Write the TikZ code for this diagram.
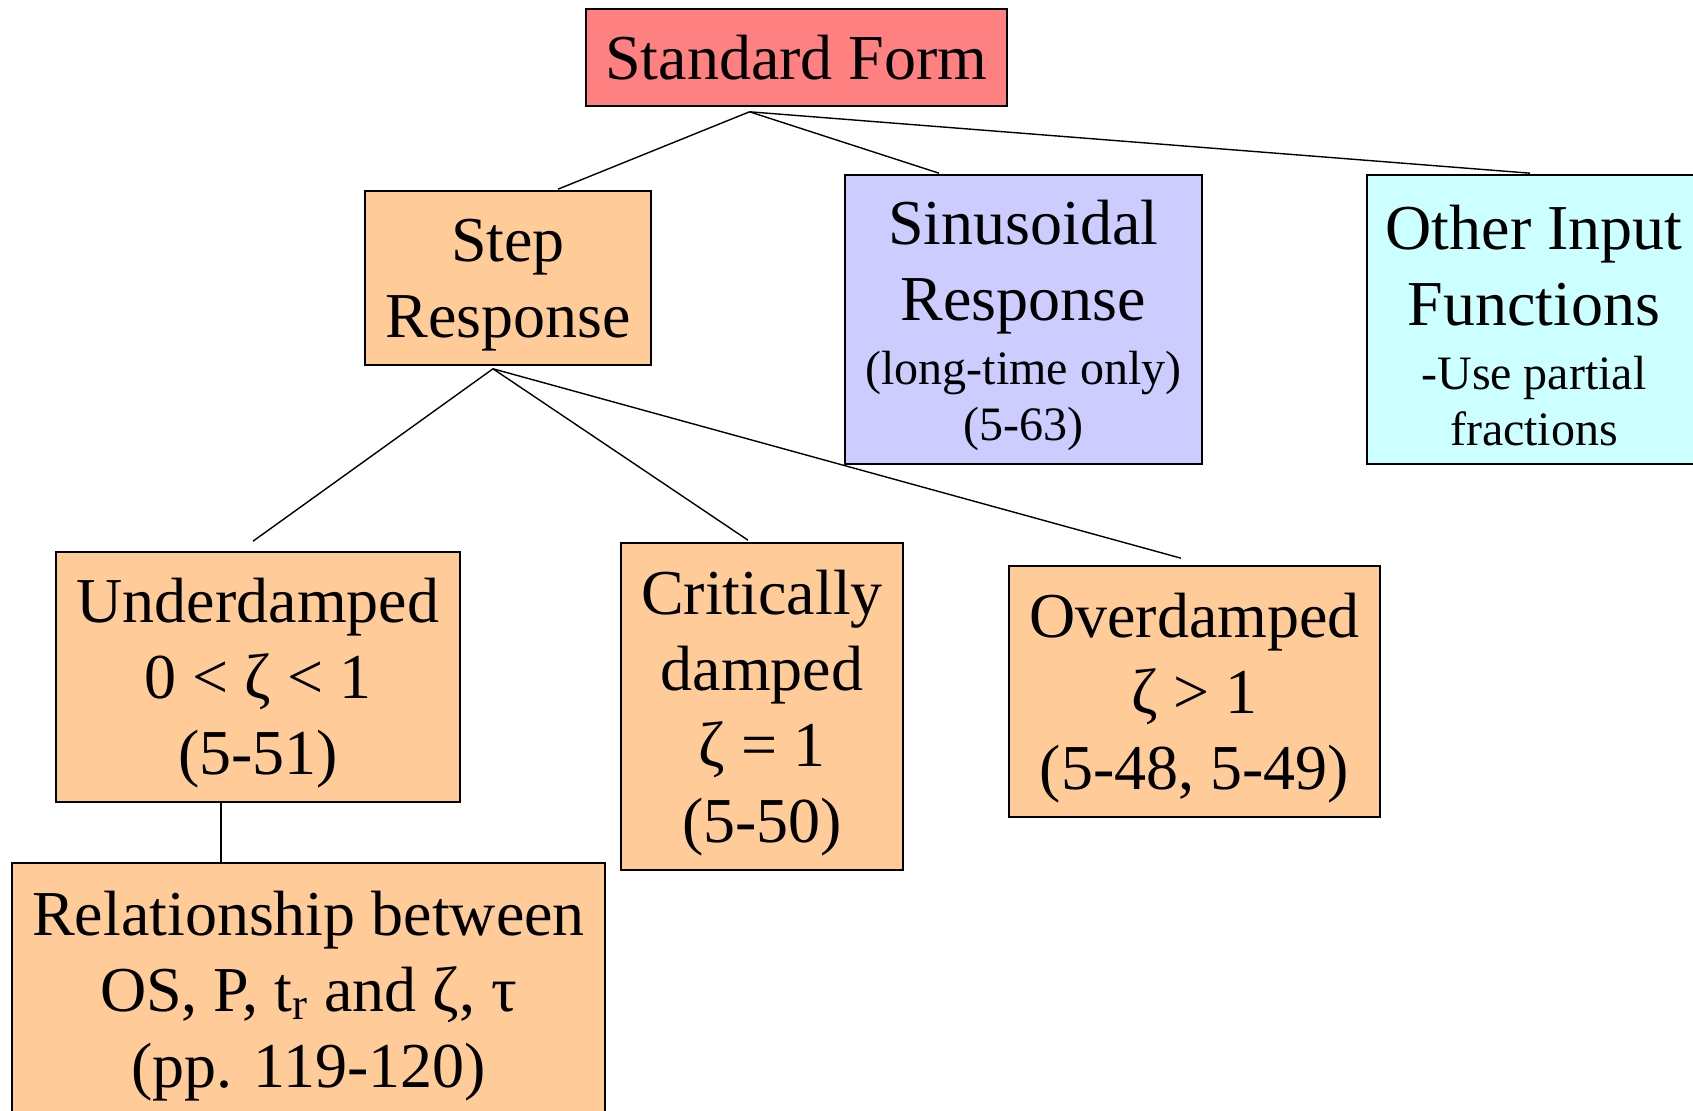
\documentclass[tikz,border=0pt]{standalone}
\usepackage{fontspec}
\setmainfont{Liberation Serif}
\definecolor{rosa}{HTML}{FF8080}
\definecolor{durazno}{HTML}{FFCC99}
\definecolor{lila}{HTML}{CCCCFF}
\definecolor{celeste}{HTML}{CCFFFF}
\newcommand{\chico}{\fontsize{24}{29}\selectfont}
\newcommand{\tope}{\rule{0pt}{28.5pt}}

\begin{document}
\begin{tikzpicture}[x=0.5pt, y=-0.5pt,
  caja/.style={draw=black, line width=0.8pt, rectangle, align=center, inner sep=0pt,
    font=\fontsize{32}{38}\selectfont},
  rama/.style={line width=0.7pt}]
\clip (0,0) rectangle (1693,1111);

%Forma estandar
\node[caja, fill=rosa, minimum width=210.5pt, minimum height=48.5pt] (std) at (796.5,57.5) {Standard Form};

%Respuestas
\node[caja, fill=durazno, minimum width=143pt, minimum height=87pt] (step) at (508,278) {\tope Step\\Response};
\node[caja, fill=lila, minimum width=178.5pt, minimum height=144.5pt] (sine) at (1023.5,319.5)
  {\tope Sinusoidal\\Response\\[-6pt]\chico (long-time only)\\[-10pt]\chico (5-63)};
\node[caja, fill=celeste, minimum width=167pt, minimum height=144.5pt] (other) at (1534,319.5)
  {\tope Other Input\\Functions\\[-6pt]\chico -Use partial\\[-10pt]\chico fractions};

%Amortiguamiento
\node[caja, fill=durazno, minimum width=202pt, minimum height=125pt] (under) at (258,677) {\tope Underdamped\\0 < ζ < 1\\(5-51)};
\node[caja, fill=durazno, minimum width=141pt, minimum height=163.5pt] (crit) at (762,706.5) {\tope Critically\\damped\\ζ = 1\\(5-50)};
\node[caja, fill=durazno, minimum width=185.5pt, minimum height=125.5pt] (over) at (1194.5,691.5) {\tope Overdamped\\ζ > 1\\(5-48, 5-49)};
\node[caja, fill=durazno, minimum width=296.5pt, minimum height=127pt] (rel) at (308.5,990)
  {\tope Relationship between\\OS, P, t\textsubscript{r} and ζ, τ\\(pp. 119-120)};

%Ramas
\coordinate (stdpie) at ([shift={(-47,5)}]std.south);
\draw[rama] (stdpie) -- ([shift={(50,-1)}]step.north);
\draw[rama] (stdpie) -- ([shift={(-84.5,-1)}]sine.north);
\draw[rama] (stdpie) -- ([shift={(-4,-1)}]other.north);

\coordinate (steppie) at ([shift={(-15,3)}]step.south);
\draw[rama] (steppie) -- ([shift={(-5,-10)}]under.north);
\draw[rama] (steppie) -- ([shift={(-14,-2)}]crit.north);
\draw[rama] (steppie) -- ([shift={(-13.5,-7)}]over.north);

\coordinate (underpie) at ([shift={(-37,-2)}]under.south);
\draw[rama] (underpie) -- (underpie |- rel.north);
\end{tikzpicture}
\end{document}
